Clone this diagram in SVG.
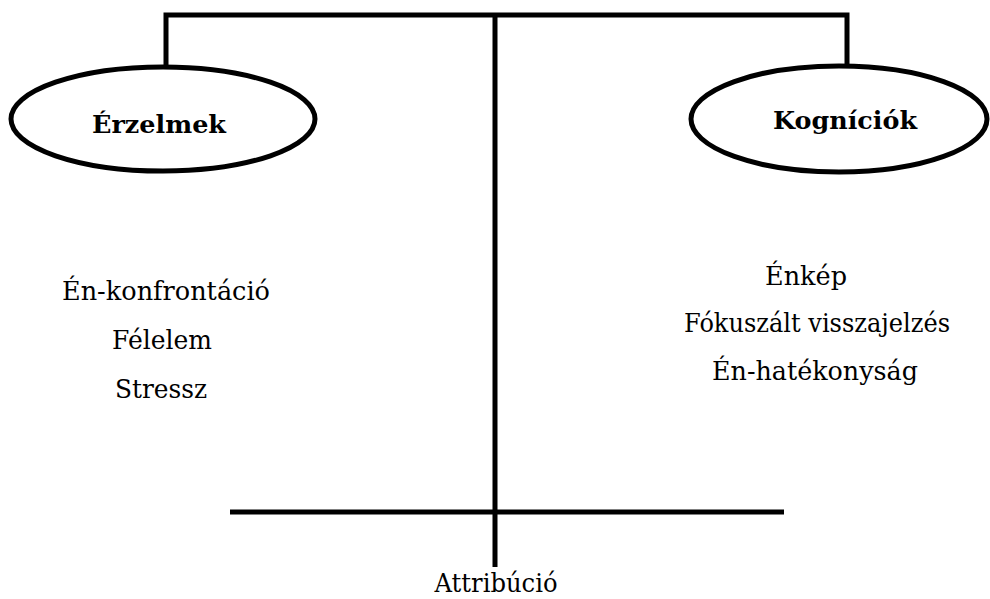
<svg xmlns="http://www.w3.org/2000/svg" width="990" height="599" viewBox="0 0 990 599">
<style>
.ln{stroke:#000;stroke-width:5;fill:none;stroke-linecap:butt}
.el{stroke:#000;stroke-width:5;fill:#fff}
.t{font-family:"DejaVu Serif","Liberation Serif",serif;font-size:26px;fill:#000;text-anchor:middle}
.b{font-family:"DejaVu Serif","Liberation Serif",serif;font-size:25px;font-weight:bold;fill:#000;text-anchor:middle}
</style>
<rect width="990" height="599" fill="#fff"/>
<g id="connectors">
<polyline class="ln" points="166,67 166,15 847,15 847,65"/>
<line class="ln" x1="495" y1="13" x2="495" y2="567"/>
<line class="ln" x1="230" y1="512" x2="784" y2="512"/>
</g>
<g id="erzelmek">
<ellipse class="el" cx="163" cy="119" rx="152" ry="52"/>
<text class="b" x="159" y="133" textLength="134" lengthAdjust="spacingAndGlyphs">Érzelmek</text>
</g>
<g id="kogniciok">
<ellipse class="el" cx="839" cy="119" rx="148" ry="53"/>
<text class="b" x="845" y="129" textLength="144" lengthAdjust="spacingAndGlyphs">Kogníciók</text>
</g>
<g id="erzelmek-items">
<text class="t" x="166" y="300" textLength="208" lengthAdjust="spacingAndGlyphs">Én-konfrontáció</text>
<text class="t" x="162" y="349" textLength="100" lengthAdjust="spacingAndGlyphs">Félelem</text>
<text class="t" x="161" y="398" textLength="92" lengthAdjust="spacingAndGlyphs">Stressz</text>
</g>
<g id="kogniciok-items">
<text class="t" x="806" y="285" textLength="82" lengthAdjust="spacingAndGlyphs">Énkép</text>
<text class="t" x="817" y="332" textLength="266" lengthAdjust="spacingAndGlyphs">Fókuszált visszajelzés</text>
<text class="t" x="815" y="380" textLength="206" lengthAdjust="spacingAndGlyphs">Én-hatékonyság</text>
</g>
<g id="attribucio">
<text class="t" x="496" y="592" textLength="123" lengthAdjust="spacingAndGlyphs">Attribúció</text>
</g>
</svg>
